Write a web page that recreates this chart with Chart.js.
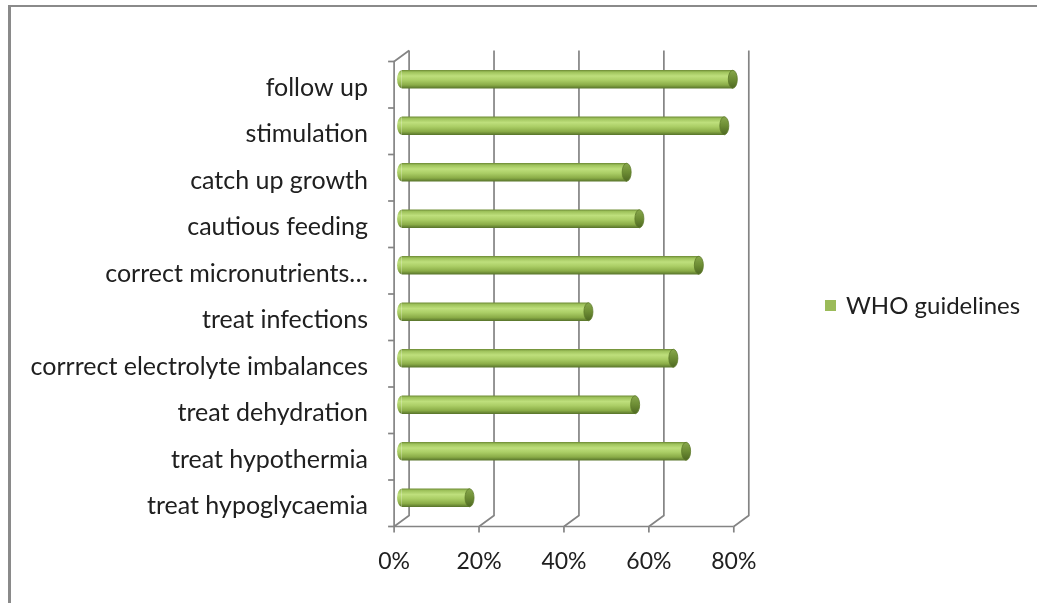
<!DOCTYPE html>
<html>
<head>
<meta charset="utf-8">
<script src="https://cdn.jsdelivr.net/npm/chart.js@4/dist/chart.umd.min.js"></script>
<style>
  html, body { margin: 0; padding: 0; background: #ffffff; }
  #wrap { position: relative; width: 1037px; height: 603px; overflow: hidden; }
  #frame { position: absolute; left: 8px; top: 5px; right: -10px; bottom: -10px;
           border-left: 3px solid #8a8a8a; border-top: 2px solid #8a8a8a; }
  canvas { position: absolute; left: 0; top: 0; }
</style>
</head>
<body>
<div id="wrap">
  <div id="frame"></div>
  <canvas id="chart" width="1037" height="603"></canvas>
</div>
<script>
// Steps of the WHO malnutrition protocol, listed top to bottom
const categories = [
  'follow up',
  'stimulation',
  'catch up growth',
  'cautious feeding',
  'correct micronutrients\u2026',
  'treat infections',
  'corrrect electrolyte imbalances',
  'treat dehydration',
  'treat hypothermia',
  'treat hypoglycaemia'
];
// Share of cases handled according to the guidelines (%)
const whoGuidelines = [78, 76, 53, 56, 70, 44, 64, 55, 67, 16];
const xTickValues = [0, 20, 40, 60, 80];
const seriesName = 'WHO guidelines';

const FAMILY = 'Lato, "Open Sans", sans-serif';
const CAT_FONT = { family: FAMILY, size: 25 };
const X_FONT = { family: FAMILY, size: 23 };
const LEGEND_FONT = { family: FAMILY, size: 24 };
const TEXT_COLOR = '#202020';
const GRID_COLOR = '#848484';
const BAR_COLOR = '#9bbb59';
// perspective offset between the mid plane (where bars sit) and the back wall
const DX = 7.5, DY = 5.5;
const BAR_H = 18;

function bodyGradient(ctx, top, bottom) {
  const g = ctx.createLinearGradient(0, top, 0, bottom);
  g.addColorStop(0.00, '#718f38');
  g.addColorStop(0.10, '#9ec25b');
  g.addColorStop(0.32, '#bedf7c');
  g.addColorStop(0.55, '#abce66');
  g.addColorStop(0.82, '#8aac47');
  g.addColorStop(1.00, '#5a762c');
  return g;
}

// 3D frame: side wall, back wall gridlines, floor and axis ticks
const wallsPlugin = {
  id: 'walls',
  beforeDatasetsDraw(chart) {
    const { ctx, chartArea } = chart;
    const xs = chart.scales.x;
    const top = chartArea.top, bottom = chartArea.bottom;
    ctx.save();
    ctx.strokeStyle = GRID_COLOR;
    ctx.lineWidth = 1.7;
    ctx.lineCap = 'butt';
    const x0 = xs.getPixelForValue(0);
    // back wall gridlines + floor diagonals
    xTickValues.forEach(v => {
      const x = xs.getPixelForValue(v);
      ctx.beginPath();
      ctx.moveTo(x + DX, top - DY);
      ctx.lineTo(x + DX, bottom - DY);
      ctx.lineTo(x - DX, bottom + DY);
      ctx.stroke();
      // tick mark under the front edge
      ctx.beginPath();
      ctx.moveTo(x - DX, bottom + DY);
      ctx.lineTo(x - DX, bottom + DY + 6);
      ctx.stroke();
    });
    // front edge of the floor
    ctx.beginPath();
    ctx.moveTo(x0 - DX, bottom + DY);
    ctx.lineTo(xs.getPixelForValue(xTickValues[xTickValues.length - 1]) - DX, bottom + DY);
    ctx.stroke();
    // side wall: front vertical edge and top diagonal
    ctx.beginPath();
    ctx.moveTo(x0 + DX, top - DY);
    ctx.lineTo(x0 - DX, top + DY);
    ctx.lineTo(x0 - DX, bottom + DY);
    ctx.stroke();
    // category ticks on the front edge
    const n = categories.length;
    const band = (bottom - top) / n;
    for (let i = 0; i <= n; i++) {
      const y = top + band * i + DY;
      ctx.beginPath();
      ctx.moveTo(x0 - DX - 6, y);
      ctx.lineTo(x0 - DX, y);
      ctx.stroke();
    }
    ctx.restore();
  }
};

// rounded cylinder ends on each bar
const cylinderPlugin = {
  id: 'cylinder',
  afterDatasetsDraw(chart) {
    const { ctx } = chart;
    const meta = chart.getDatasetMeta(0);
    ctx.save();
    meta.data.forEach(el => {
      const { x, y, base, height } = el.getProps(['x', 'y', 'base', 'height'], true);
      const ry = height / 2, rx = 4.5;
      // left rounded end
      ctx.beginPath();
      ctx.ellipse(base, y, rx, ry, 0, Math.PI / 2, Math.PI * 1.5);
      ctx.closePath();
      ctx.fillStyle = bodyGradient(ctx, y - ry, y + ry);
      ctx.fill();
      // right end face
      const g = ctx.createLinearGradient(0, y - ry, 0, y + ry);
      g.addColorStop(0, '#88a84c');
      g.addColorStop(0.5, '#6d8d34');
      g.addColorStop(1, '#4e6822');
      ctx.beginPath();
      ctx.ellipse(x, y, rx, ry, 0, 0, Math.PI * 2);
      ctx.fillStyle = g;
      ctx.fill();
      ctx.lineWidth = 0.8;
      ctx.strokeStyle = '#5d7a29';
      ctx.stroke();
    });
    ctx.restore();
  }
};

// legend drawn beside the plot
const sideLegendPlugin = {
  id: 'sideLegend',
  afterDraw(chart) {
    const { ctx } = chart;
    const ds = chart.data.datasets[0];
    ctx.save();
    ctx.fillStyle = BAR_COLOR;
    ctx.fillRect(825, 300, 11, 11);
    ctx.fillStyle = TEXT_COLOR;
    ctx.font = LEGEND_FONT.size + 'px ' + LEGEND_FONT.family;
    ctx.textBaseline = 'middle';
    ctx.textAlign = 'left';
    ctx.fillText(ds.label, 846, 306);
    ctx.restore();
  }
};

new Chart(document.getElementById('chart'), {
  type: 'bar',
  data: {
    labels: categories,
    datasets: [{
      label: seriesName,
      data: whoGuidelines,
      barThickness: BAR_H,
      borderWidth: 0,
      backgroundColor(c) {
        const chart = c.chart;
        if (!chart.chartArea || c.dataIndex === undefined) return BAR_COLOR;
        const y = chart.scales.y.getPixelForValue(c.dataIndex);
        return bodyGradient(chart.ctx, y - BAR_H / 2, y + BAR_H / 2);
      }
    }]
  },
  options: {
    indexAxis: 'y',
    responsive: false,
    animation: false,
    devicePixelRatio: 1,
    layout: { padding: { left: 0, right: 295.7, top: 56, bottom: 0 } },
    plugins: { legend: { display: false }, tooltip: { enabled: false } },
    scales: {
      x: {
        type: 'linear', min: 0, max: 80,
        afterBuildTicks(s) { s.ticks = xTickValues.map(v => ({ value: v })); },
        afterFit(s) { s.height = 82; },
        grid: { display: false, drawTicks: false },
        border: { display: false },
        ticks: { font: X_FONT, color: TEXT_COLOR, padding: 27, labelOffset: -DX,
                 callback: v => v + '%' }
      },
      y: {
        type: 'category',
        afterFit(s) { s.width = 401.6; },
        grid: { display: false, drawTicks: false },
        border: { display: false },
        ticks: { font: CAT_FONT, color: TEXT_COLOR, padding: 33.6, labelOffset: 8.5, autoSkip: false }
      }
    }
  },
  plugins: [wallsPlugin, cylinderPlugin, sideLegendPlugin]
});
</script>
</body>
</html>
